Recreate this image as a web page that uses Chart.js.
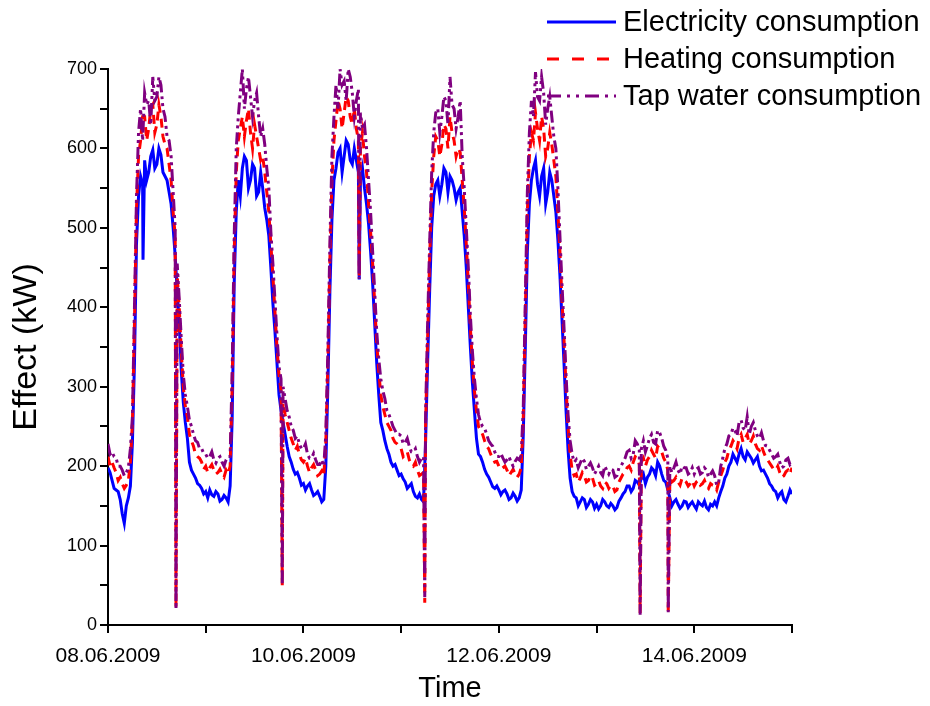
<!DOCTYPE html>
<html><head><meta charset="utf-8">
<script src="https://cdn.jsdelivr.net/npm/chart.js@4.4.1/dist/chart.umd.min.js"></script>
<style>html,body{margin:0;padding:0;background:#fff}#wrap{width:930px;height:706px}</style>
</head><body><div id="wrap"><canvas id="c" width="930" height="706"></canvas></div>
<script>
const seriesNames = ['Electricity consumption', 'Heating consumption', 'Tap water consumption'];
const xTickLabels = ['08.06.2009', '', '10.06.2009', '', '12.06.2009', '', '14.06.2009', ''];
const xTitle = 'Time';
const yTitle = 'Effect (kW)';

// readings on the hour: index 0 = 08.06.2009 00:00 ... index 168 = 15.06.2009 00:00
const electricity = [
  198,182,170,158,128,160,230,480,565,585,570,598,580,592,565,545,500,420,320,255,205,190,178,172,
  168,170,162,165,158,160,175,430,560,575,585,560,575,545,550,510,450,370,290,255,225,205,190,185,
  178,175,170,165,162,158,300,510,575,600,590,605,580,585,560,550,505,430,330,255,232,215,200,195,
  190,180,175,168,160,158,230,420,540,560,555,570,565,550,545,520,450,350,270,215,205,190,180,172,
  170,168,165,160,162,160,240,470,560,585,540,575,545,560,520,440,330,220,168,160,155,158,152,155,
  152,150,155,148,150,148,160,168,175,172,180,185,178,190,195,205,190,180,160,155,152,150,155,152,
  150,155,150,148,152,155,160,175,190,205,210,215,212,218,210,208,200,195,185,175,168,165,158,162,165
];
const heating = [
  212,205,192,186,172,182,255,525,610,640,625,655,630,640,605,580,520,440,345,275,240,225,212,205,
  200,198,195,192,190,195,200,470,610,640,635,620,630,600,590,545,480,395,315,280,255,235,220,215,
  205,200,198,195,190,188,330,560,635,650,645,660,630,625,600,590,530,455,355,290,265,250,235,228,
  222,215,208,200,195,190,250,460,590,610,605,625,640,610,600,560,480,375,295,250,240,225,215,205,
  200,198,195,192,190,190,260,520,620,645,610,625,600,605,565,470,360,250,195,190,185,188,182,185,
  178,175,180,172,175,170,185,192,200,205,210,205,200,212,215,225,218,205,185,182,180,185,180,178,
  175,182,178,175,178,175,180,195,210,225,228,235,230,240,232,228,220,218,208,200,195,192,188,195,198
];
const tapWater = [
  228,218,210,200,188,198,262,540,650,670,660,690,665,680,640,610,545,455,360,290,258,240,230,222,
  215,212,208,210,205,208,212,490,640,700,675,665,660,640,625,575,495,410,325,300,270,250,235,228,
  222,215,210,208,202,200,345,590,680,700,685,700,670,660,645,630,560,470,370,310,285,265,250,240,
  238,230,225,218,212,210,265,480,620,650,640,660,690,650,640,590,500,390,310,265,250,240,228,218,
  212,210,208,205,206,208,275,545,660,696,660,670,650,640,600,490,375,265,215,208,204,206,200,198,
  195,192,200,190,195,188,200,210,220,215,228,222,218,235,230,245,235,220,200,198,195,200,198,192,
  190,198,192,195,190,188,180,210,228,240,245,255,248,262,250,245,235,232,225,215,212,205,200,210,205
];
// readings at half past each hour (index 0 = 00:30 on 08.06.2009)
const electricityHalf = [
  192,172,168,140,150,175,330,540,555,560,590,575,600,570,560,530,465,380,280,235,195,185,176,165,
  160,164,168,156,163,155,260,520,540,590,550,580,540,570,525,490,405,330,270,240,212,196,192,176,
  170,178,163,168,155,200,420,560,595,570,610,585,600,570,575,530,470,380,290,245,222,205,202,188,
  184,172,178,162,165,155,330,500,555,540,575,545,560,535,550,490,400,305,235,212,196,186,174,175,
  164,170,158,166,156,170,350,530,575,555,565,530,570,540,485,385,270,185,162,150,160,148,158,147,
  146,158,150,153,145,156,165,175,168,182,176,190,186,198,188,200,182,170,150,158,147,156,148,155,
  146,152,156,145,150,150,168,185,200,215,205,222,208,214,204,212,194,190,178,170,160,168,155,170
];
const heatingHalf = [
  200,198,182,178,176,205,380,590,640,610,650,620,655,615,600,560,490,400,300,262,232,215,210,196,
  192,202,190,196,186,190,300,570,625,615,650,600,615,585,570,520,440,350,295,265,245,228,225,208,
  210,192,202,188,194,230,460,610,660,625,665,640,650,610,620,570,495,405,320,275,255,245,230,225,
  212,218,202,205,188,192,360,545,615,590,630,600,620,590,595,525,430,330,270,245,232,222,210,206,
  196,200,188,196,186,198,390,590,610,625,640,590,620,585,520,410,300,215,188,180,192,180,188,176,
  182,172,178,176,168,180,190,198,195,212,202,210,208,220,210,222,210,195,180,186,176,182,175,182,
  180,176,182,172,176,170,188,205,220,232,222,240,235,228,238,222,226,212,204,196,200,186,193,190
];
const tapWaterHalf = [
  215,212,200,195,192,222,400,620,610,655,630,660,690,650,615,590,500,410,315,275,250,232,222,216,
  210,218,204,212,200,212,320,600,670,650,690,640,670,615,605,550,455,365,310,285,262,245,238,222,
  228,210,216,202,208,240,480,640,650,680,660,690,640,675,625,600,520,420,335,295,270,258,245,240,
  228,235,218,222,205,212,380,570,645,620,665,630,655,625,660,550,450,345,285,255,248,232,225,212,
  216,205,212,200,210,214,410,620,640,665,690,630,665,615,550,430,315,232,205,198,210,196,204,190,
  200,188,195,196,186,198,205,218,210,232,220,232,226,240,228,242,225,210,192,205,190,198,190,198,
  196,190,198,186,194,176,200,222,238,248,238,258,245,240,255,238,242,226,220,210,215,198,208,202
];
// short drops recorded between the regular readings: [hour, value]
const elecDropHours = [8.6, 61.7];
const elecDropValues = [460, 435];
const dropHours = [16.7, 42.8, 61.7, 77.8, 130.7, 137.6];
const heatDropValues = [22, 50, 440, 28, 15, 14];
const tapDropValues = [20, 52, 436, 35, 13, 16];

function buildPoints(vals, halfVals, hrs, drops) {
  const pts = vals.map((v, i) => ({x: i, y: v}));
  halfVals.forEach((v, i) => pts.push({x: i + 0.5, y: v}));
  hrs.forEach((h, k) => pts.push({x: h, y: drops[k]}));
  pts.sort((a, b) => a.x - b.x);
  return pts;
}

const FONT = '"Liberation Sans", Arial, sans-serif';

const legendPlugin = {
  id: 'customLegend',
  afterDraw(chart) {
    const ctx = chart.ctx;
    ctx.save();
    chart.data.datasets.forEach((ds, i) => {
      const y = 22 + i * 37;
      ctx.strokeStyle = ds.borderColor;
      ctx.lineWidth = 3;
      ctx.setLineDash(ds.legendDash || []);
      ctx.beginPath();
      ctx.moveTo(547, y);
      ctx.lineTo(616, y);
      ctx.stroke();
      ctx.setLineDash([]);
      ctx.fillStyle = '#000';
      ctx.font = '29px ' + FONT;
      ctx.textBaseline = 'middle';
      ctx.textAlign = 'left';
      ctx.fillText(ds.label, 623, y + 1);
    });
    ctx.restore();
  }
};

new Chart(document.getElementById('c'), {
  type: 'line',
  data: {
    datasets: [
      {label: seriesNames[0], data: buildPoints(electricity, electricityHalf, elecDropHours, elecDropValues),
       borderColor: '#0000ff', borderWidth: 3, pointRadius: 0, order: 3, legendDash: []},
      {label: seriesNames[1], data: buildPoints(heating, heatingHalf, dropHours, heatDropValues),
       borderColor: '#ff0000', borderWidth: 3, borderDash: [9, 6], pointRadius: 0, order: 2, legendDash: [12, 13]},
      {label: seriesNames[2], data: buildPoints(tapWater, tapWaterHalf, dropHours, tapDropValues),
       borderColor: '#800080', borderWidth: 3, borderDash: [12, 4, 3, 4, 3, 4], pointRadius: 0, order: 1, legendDash: [14, 6, 3, 6, 3, 6]}
    ]
  },
  options: {
    responsive: false,
    animation: false,
    devicePixelRatio: 1,
    layout: {padding: {top: 69, right: 138, left: 0, bottom: 0}},
    plugins: {legend: {display: false}, tooltip: {enabled: false}},
    elements: {line: {tension: 0}},
    scales: {
      x: {
        type: 'linear', min: 0, max: 168,
        afterFit(scale) { scale.height = 81; },
        border: {display: true, color: '#000', width: 2},
        grid: {drawOnChartArea: false, drawTicks: true, tickLength: 8, color: '#000', lineWidth: 2},
        ticks: {
          stepSize: 24, autoSkip: false, maxRotation: 0, color: '#000', padding: 11,
          font: {family: FONT, size: 21},
          callback: (v) => xTickLabels[Math.round(v / 24)] || ''
        },
        title: {display: true, text: xTitle, color: '#000', font: {family: FONT, size: 29}, padding: {top: 0, bottom: 0}}
      },
      y: {
        min: 0, max: 700,
        afterFit(scale) { scale.width = 108; },
        border: {display: true, color: '#000', width: 2},
        grid: {drawOnChartArea: false, drawTicks: true, tickLength: 8, color: '#000', lineWidth: 2},
        ticks: {
          stepSize: 50, autoSkip: false, color: '#000', padding: 3,
          font: {family: FONT, size: 18},
          callback: (v) => (v % 100 === 0 ? String(v) : '')
        },
        title: {display: true, text: yTitle, color: '#000', font: {family: FONT, size: 34}, padding: {top: 6, bottom: 0}}
      }
    }
  },
  plugins: [legendPlugin]
});
</script>
</body></html>
